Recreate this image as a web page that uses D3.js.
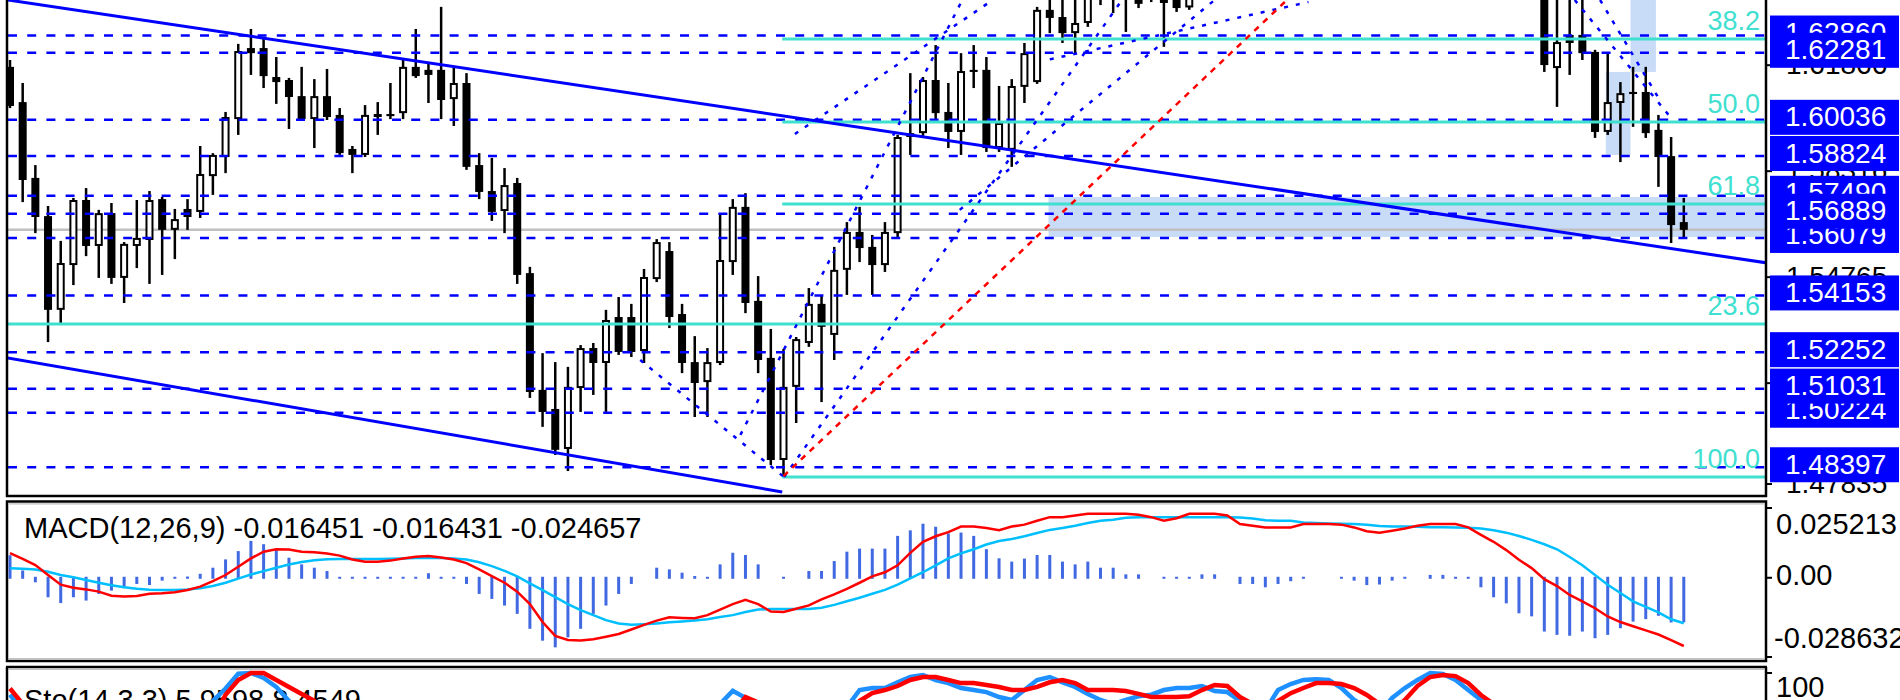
<!DOCTYPE html>
<html><head><meta charset="utf-8">
<script src="https://cdnjs.cloudflare.com/ajax/libs/d3/7.8.5/d3.min.js"></script>
<style>html,body{margin:0;padding:0;background:#fff;overflow:hidden}svg{display:block}</style>
</head><body>
<svg id="chart" width="1900" height="700"></svg>
<script>
// ---------------- DATA ----------------
const openP = [1.6181,1.6063,1.5809,1.5681,1.5367,1.5517,1.5735,1.5581,1.5691,1.5474,
1.5581,1.5601,1.5738,1.5635,1.5705,1.5695,1.5815,1.5879,1.6006,1.6244,
1.6244,1.6147,1.6137,1.6083,1.6006,1.6083,1.6020,1.5906,1.5886,1.6023,
1.6023,1.6026,1.6181,1.6171,1.6171,1.6073,1.6127,1.5852,1.5765,1.5698,
1.5792,1.5490,1.5099,1.5035,1.4901,1.5105,1.5239,1.5189,1.5343,1.5343,
1.5229,1.5470,1.5564,1.5353,1.5192,1.5125,1.5189,1.5527,1.5712,1.5397,
1.5206,1.4864,1.5109,1.5256,1.5387,1.5283,1.5501,1.5628,1.5578,1.5517,
1.5624,1.5946,1.5959,1.6137,1.6030,1.5963,1.6171,1.6171,1.5909,1.5903,
1.6114,1.6130,1.6372,1.6348,1.6294,1.6328,1.6439,1.6455,1.6422,1.6439,
1.6439,1.6412,1.6439,1.6380,1.6470,1.6510,1.6500,1.6490,1.6470,1.6515,
1.6550,1.6580,1.6560,1.6620,1.6650,1.6630,1.6600,1.6560,1.6530,1.6550,
1.6590,1.6620,1.6650,1.6680,1.6670,1.6630,1.6590,1.6550,1.6510,1.6500,
1.6490,1.6472,1.6177,1.6288,1.6288,1.6231,1.5963,1.6060,1.6097,1.6097,
1.5970,1.5882,1.5661];
const highP = [1.6204,1.6127,1.5852,1.5715,1.5598,1.5742,1.5775,1.5702,1.5725,1.5594,
1.5735,1.5765,1.5745,1.5705,1.5738,1.5916,1.5892,1.6030,1.6258,1.6308,
1.6278,1.6214,1.6144,1.6181,1.6140,1.6174,1.6043,1.5916,1.6053,1.6063,
1.6127,1.6207,1.6308,1.6197,1.6382,1.6181,1.6160,1.5892,1.5876,1.5842,
1.5809,1.5511,1.5222,1.5192,1.5176,1.5249,1.5256,1.5367,1.5410,1.5387,
1.5504,1.5604,1.5594,1.5387,1.5279,1.5239,1.5691,1.5738,1.5758,1.5480,
1.5303,1.5236,1.5276,1.5440,1.5417,1.5578,1.5661,1.5712,1.5618,1.5661,
1.5953,1.6160,1.6147,1.6254,1.6127,1.6227,1.6254,1.6214,1.6117,1.6140,
1.6261,1.6382,1.6422,1.6439,1.6422,1.6455,1.6489,1.6506,1.6489,1.6472,
1.6489,1.6472,1.6472,1.6490,1.6530,1.6560,1.6540,1.6520,1.6530,1.6570,
1.6600,1.6620,1.6640,1.6680,1.6690,1.6660,1.6620,1.6590,1.6570,1.6610,
1.6640,1.6670,1.6700,1.6720,1.6690,1.6650,1.6600,1.6570,1.6540,1.6530,
1.6510,1.6506,1.6422,1.6422,1.6422,1.6238,1.6227,1.6130,1.6181,1.6181,
1.6020,1.5946,1.5742];
const lowP = [1.6043,1.5728,1.5624,1.5259,1.5323,1.5450,1.5547,1.5474,1.5454,1.5390,
1.5507,1.5454,1.5484,1.5537,1.5635,1.5675,1.5752,1.5825,1.5953,1.6154,
1.6110,1.6057,1.5973,1.6003,1.5909,1.6003,1.5886,1.5825,1.5879,1.5953,
1.6006,1.6006,1.6144,1.6060,1.6006,1.5983,1.5836,1.5738,1.5665,1.5624,
1.5454,1.5072,1.4975,1.4881,1.4827,1.5025,1.5082,1.5025,1.5216,1.5209,
1.5189,1.5460,1.5306,1.5155,1.5008,1.5008,1.5182,1.5484,1.5356,1.5155,
1.4847,1.4810,1.4988,1.5243,1.5058,1.5199,1.5417,1.5527,1.5417,1.5494,
1.5611,1.5886,1.5946,1.6003,1.5909,1.5886,1.6110,1.5896,1.5896,1.5846,
1.6060,1.6124,1.6294,1.6261,1.6221,1.6315,1.6388,1.6361,1.6298,1.6378,
1.6398,1.6248,1.6365,1.6372,1.6440,1.6480,1.6460,1.6450,1.6455,1.6500,
1.6520,1.6540,1.6550,1.6600,1.6610,1.6580,1.6540,1.6510,1.6500,1.6540,
1.6570,1.6600,1.6630,1.6650,1.6610,1.6570,1.6530,1.6490,1.6470,1.6460,
1.6440,1.6164,1.6047,1.6154,1.6204,1.5943,1.5953,1.5862,1.5980,1.5943,
1.5779,1.5591,1.5608];
const closeP = [1.6050,1.5802,1.5678,1.5367,1.5524,1.5735,1.5581,1.5691,1.5474,1.5588,
1.5608,1.5735,1.5635,1.5671,1.5678,1.5822,1.5886,1.6013,1.6234,1.6227,
1.6150,1.6130,1.6080,1.6006,1.6083,1.6013,1.5892,1.5886,1.6020,1.6013,
1.6016,1.6181,1.6150,1.6154,1.6070,1.6127,1.5846,1.5762,1.5695,1.5785,
1.5484,1.5092,1.5025,1.4898,1.5109,1.5239,1.5189,1.5333,1.5226,1.5226,
1.5477,1.5594,1.5343,1.5189,1.5122,1.5192,1.5534,1.5712,1.5390,1.5199,
1.4864,1.5109,1.5269,1.5387,1.5310,1.5501,1.5628,1.5574,1.5517,1.5628,
1.5946,1.5959,1.6137,1.6026,1.5963,1.6167,1.6164,1.5909,1.5993,1.6117,
1.6227,1.6372,1.6345,1.6294,1.6328,1.6422,1.6472,1.6422,1.6455,1.6392,
1.6465,1.6395,1.6378,1.6470,1.6510,1.6500,1.6490,1.6470,1.6515,1.6550,
1.6580,1.6560,1.6620,1.6650,1.6630,1.6600,1.6560,1.6530,1.6550,1.6590,
1.6620,1.6650,1.6680,1.6670,1.6630,1.6590,1.6550,1.6510,1.6500,1.6490,
1.6460,1.6187,1.6264,1.6261,1.6227,1.5963,1.6063,1.6093,1.6090,1.5959,
1.5879,1.5651,1.5635];

// MACD histogram, light-blue line, red line
const macdHist = [.0085,.0030,-.0020,-.0074,-.0095,-.0074,-.0086,-.0062,-.0050,-.0038,
-.0026,-.0030,-.0014,.0004,.0008,.0018,.0040,.0070,.0100,.0137,
.0125,.0107,.0076,.0052,.0040,.0028,.0003,.0004,.0004,.0004,
.0004,.0004,.0004,.0020,.0004,-.0004,-.0026,-.0062,-.0080,-.0104,
-.0134,-.0188,-.0231,-.0255,-.0219,-.0188,-.0134,-.0104,-.0062,-.0026,
0,.0040,.0034,.0022,.0010,.0003,.0052,.0094,.0086,.0052,
0,.0003,0,.0028,.0028,.0064,.0098,.0109,.0109,.0109,
.0155,.0175,.0199,.0188,.0164,.0167,.0155,.0107,.0074,.0062,
.0073,.0086,.0086,.0062,.0052,.0062,.0040,.0040,.0016,.0016,
0,.0003,.0003,.0003,.0016,.0016,0,-.0026,-.0026,-.0038,
-.0026,-.0016,-.0003,0,0,-.0003,-.0014,-.0030,-.0028,-.0014,
-.0004,0,.0014,.0014,.0003,.0003,-.0038,-.0074,-.0096,-.0132,
-.0143,-.0198,-.0210,-.0213,-.0198,-.0222,-.0210,-.0186,-.0162,-.0153,
-.0141,-.0165,-0.016451];
const macdBlue = [.0034,.0033,.0030,.0022,.0010,.0002,-.0008,-.0018,-.0027,-.0034,
-.0040,-.0043,-.0044,-.0044,-.0042,-.0038,-.0030,-.0018,-.0003,.0012,
.0024,.0036,.0048,.0057,.0063,.0067,.0068,.0068,.0068,.0068,
.0069,.0070,.0071,.0071,.0071,.0070,.0066,.0056,.0042,.0025,
.0005,-.0020,-.0045,-.0070,-.0095,-.0117,-.0135,-.0153,-.0165,-.0170,
-.0168,-.0165,-.0161,-.0158,-.0154,-.0150,-.0142,-.0135,-.0124,-.0115,
-.0113,-.0113,-.0113,-.0113,-.0108,-.0098,-.0085,-.0072,-.0058,-.0044,
-.0025,-.0002,.0020,.0045,.0070,.0088,.0103,.0120,.0133,.0140,
.0150,.0162,.0173,.0180,.0188,.0198,.0206,.0210,.0217,.0219,
.0219,.0219,.0219,.0219,.0219,.0219,.0219,.0218,.0214,.0208,
.0206,.0206,.0200,.0198,.0196,.0195,.0194,.0192,.0187,.0185,
.0185,.0184,.0183,.0183,.0182,.0181,.0178,.0172,.0163,.0151,
.0137,.0121,.0103,.0075,.0045,.0010,-.0025,-.0055,-.0085,-.0105,
-.0125,-.0150,-0.016431];
const macdRed = [.0089,.0068,.0046,.0010,-.0025,-.0036,-.0042,-.0050,-.0065,-.0068,
-.0066,-.0058,-.0056,-.0052,-.0044,-.0032,-.0012,.0010,.0040,.0070,
.0094,.0103,.0102,.0094,.0092,.0088,.0080,.0066,.0058,.0058,
.0062,.0070,.0076,.0079,.0073,.0066,.0053,.0030,.0006,-.0018,
-.0050,-.0095,-.0160,-.0210,-.0225,-.0227,-.0222,-.0213,-.0203,-.0187,
-.0170,-.0155,-.0143,-.0145,-.0146,-.0135,-.0115,-.0095,-.0080,-.0095,
-.0122,-.0124,-.0112,-.0100,-.0078,-.0060,-.0040,-.0018,.0005,.0020,
.0045,.0090,.0130,.0150,.0165,.0185,.0185,.0180,.0172,.0185,
.0192,.0206,.0219,.0219,.0225,.0231,.0231,.0231,.0231,.0228,
.0219,.0206,.0215,.0231,.0231,.0231,.0225,.0194,.0188,.0182,
.0182,.0182,.0194,.0194,.0194,.0192,.0182,.0168,.0163,.0170,
.0178,.0188,.0194,.0194,.0194,.0182,.0155,.0130,.0100,.0065,
.0035,-.0005,-.0030,-.0062,-.0085,-.0110,-.0140,-.0160,-.0175,-.0190,
-.0205,-.0225,-0.024657];

// Stochastic %K (blue) and %D (red)
const stoK = [86,75,60,40,30,35,30,28,22,25,30,38,42,50,58,70,82,90,99.5,100,
96.8,91,82,75,65,60,48,40,45,50,55,62,70,72,68,66,50,35,25,22,
15,8,5,4,12,20,25,32,38,40,55,65,60,50,45,55,80,88.5,84,70,
40,25,35,50,55,70,78,89,90.3,90.3,94,97.4,98.7,95.5,93.5,90.3,89,87.7,84.5,82.6,
89,95.5,97.4,94,91,86.5,82.6,80,82.6,85,86,89,90.3,90.3,91.6,88.4,87.7,82,78,76,
89,92.9,95.5,96,95.5,90.3,82.6,78,74,83.9,90.3,95.5,100,99.4,95.5,89,82.6,75,60,45,
35,20,22,25,20,10,15,18,20,12,8,4,5.9598];
const stoD = [90,80,72,58,43,35,32,31,27,25,26,31,37,43,50,59,70,86,95.5,100,
100,95.5,91,86.5,82,74,63,56,49,47,50,56,62,68,70,69,62,50,37,27,
21,15,9,6,7,12,19,26,32,37,44,53,60,58,52,50,60,74,84.5,81,
65,45,33,37,47,58,68,82,87,89,91.6,95.5,97.4,97.4,95.5,93.5,93.5,92.3,91,89,
89,91,94,95.5,93.5,89,89,89,88.4,86.5,84.5,84.5,84.5,85,89,92.3,91.6,84.5,80,78,
82,87,90.3,93.5,93.5,92.9,90.3,85.8,80,76,82.6,91.6,97.4,98.7,98,93.5,85.8,80,72,58,
45,35,28,22,22,18,15,14,17,16,13,9,8.4549];

// Horizontal price levels (blue dashed lines with price boxes)
const levelPrices = [1.62860,1.62281,1.60036,1.58824,1.57490,1.56889,1.56079,1.54153,1.52252,1.51031,1.50224,1.48397];
const levelDrawOrder = [0,1,2,3,4,6,5,7,8,10,9,11];
// Price axis ticks
const axisTicks = [1.61866,1.58316,1.54765,1.51215,1.47835];
// Fibonacci levels
const fibPrices = [1.62744,1.59963,1.57216,1.53196,1.48070];
const fibLabels = ["38.2","50.0","61.8","23.6","100.0"];
const fibStartIdx = [60.9,60.9,60.9,-1,60.9];
// Trend lines [idx1, price1, idx2, price2]
const trendLines = [[-0.3,1.6406,138.6,1.5524],[-0.2,1.5206,60.9,1.4757]];
const redDotLine = [61,1.4810,100.7,1.6405];
const fanLines = [[49.7,1.5199,61.04,1.4807],[61.04,1.4807,87.7,1.6405],[57.6,1.4948,75.1,1.6405],
  [61.9,1.5956,77.5,1.6405],[74.9,1.5702,95,1.6405],[82,1.6206,102.4,1.6398],
  [123.4,1.6405,130.8,1.6020],[125.4,1.6405,130.1,1.6070]];
// Shaded rectangles [idx1, priceTop, idx2, priceBottom]
const shadeRects = [[81.9,1.5745,140,1.5611],[127.8,1.6600,129.8,1.6164],[125.85,1.6164,127.8,1.5886]];
// MACD axis
const macdTicks = [0.025213,0,-0.028632];
const macdTickLabels = ["0.025213","0.00","-0.028632"];
const stoTicks = [100];

// ---------------- DRAW ----------------
const FONT = "'Liberation Sans', Arial, sans-serif";
const svg = d3.select('#chart');
const N = closeP.length;
const x = d3.scaleLinear().domain([0, 132]).range([10, 1683.8]);
const y = d3.scaleLinear().domain([1.6405, 1.4730]).range([0, 500]);
const ym = d3.scaleLinear().domain([0.025213, -0.028632]).range([508, 657]);
const ys = d3.scaleLinear().domain([100, 0]).range([673, 828]);
const L = 8, R = 1765;

svg.append('rect').attr('width',1900).attr('height',700).attr('fill','#fff');
const defs = svg.append('defs');
defs.append('clipPath').attr('id','cMain').append('rect').attr('x',L).attr('y',0).attr('width',R-L).attr('height',495);
defs.append('clipPath').attr('id','cMacd').append('rect').attr('x',L).attr('y',504).attr('width',R-L).attr('height',154);
defs.append('clipPath').attr('id','cSto').append('rect').attr('x',L).attr('y',669).attr('width',R-L).attr('height',40);

const gm = svg.append('g').attr('clip-path','url(#cMain)');
// shaded rectangles
gm.selectAll('rect.sh').data(shadeRects).join('rect')
  .attr('x',d=>x(d[0])).attr('y',d=>y(d[1])).attr('width',d=>x(d[2])-x(d[0])).attr('height',d=>y(d[3])-y(d[1]))
  .attr('fill','#c8dbf7');
// bid line
gm.append('line').attr('x1',L).attr('x2',R).attr('y1',y(closeP[N-1])).attr('y2',y(closeP[N-1]))
  .attr('stroke','#c0c0c0').attr('stroke-width',2.5);

// candles
const cg = gm.append('g');
for (let i=0;i<N;i++){
  const cx = x(i);
  cg.append('line').attr('x1',cx).attr('x2',cx).attr('y1',y(highP[i])).attr('y2',y(lowP[i]))
    .attr('stroke','#000').attr('stroke-width',2.5);
  const top = y(Math.max(openP[i],closeP[i])), bot = y(Math.min(openP[i],closeP[i]));
  const h = Math.max(2, bot-top);
  if (closeP[i] >= openP[i]) {
    cg.append('rect').attr('x',cx-3).attr('y',top+1).attr('width',6).attr('height',Math.max(1,h-2))
      .attr('fill','#fff').attr('stroke','#000').attr('stroke-width',2);
  } else {
    cg.append('rect').attr('x',cx-4).attr('y',top).attr('width',8).attr('height',h).attr('fill','#000');
  }
}

// dashed levels
gm.selectAll('line.lv').data(levelPrices).join('line')
  .attr('x1',L).attr('x2',R).attr('y1',d=>y(d)).attr('y2',d=>y(d))
  .attr('stroke','#0000ff').attr('stroke-width',2.5).attr('stroke-dasharray','9,10.2');
// fib lines
gm.selectAll('line.fb').data(fibPrices).join('line')
  .attr('x1',(d,i)=>Math.max(L,x(fibStartIdx[i]))).attr('x2',R).attr('y1',d=>y(d)).attr('y2',d=>y(d))
  .attr('stroke','#40e0d0').attr('stroke-width',3);
gm.selectAll('text.fb').data(fibPrices).join('text')
  .attr('x',1760).attr('y',d=>y(d)-9).attr('text-anchor','end')
  .attr('font-family',FONT).attr('font-size',27).attr('fill','#40e0d0').text((d,i)=>fibLabels[i]);
// trend lines
gm.selectAll('line.tl').data(trendLines).join('line')
  .attr('x1',d=>x(d[0])).attr('y1',d=>y(d[1])).attr('x2',d=>x(d[2])).attr('y2',d=>y(d[3]))
  .attr('stroke','#0000ff').attr('stroke-width',3);
gm.selectAll('line.fan').data(fanLines).join('line')
  .attr('x1',d=>x(d[0])).attr('y1',d=>y(d[1])).attr('x2',d=>x(d[2])).attr('y2',d=>y(d[3]))
  .attr('stroke','#0000ff').attr('stroke-width',2.5).attr('stroke-dasharray','4,8');
gm.append('line').attr('x1',x(redDotLine[0])).attr('y1',y(redDotLine[1])).attr('x2',x(redDotLine[2])).attr('y2',y(redDotLine[3]))
  .attr('stroke','#ff0000').attr('stroke-width',2.5).attr('stroke-dasharray','6,6');

// frames
const fr = svg.append('g').attr('stroke','#000');
fr.append('line').attr('x1',7).attr('x2',7).attr('y1',0).attr('y2',497).attr('stroke-width',2.5);
fr.append('line').attr('x1',6).attr('x2',1767).attr('y1',496).attr('y2',496).attr('stroke-width',2.5);
fr.append('line').attr('x1',1766).attr('x2',1766).attr('y1',0).attr('y2',497).attr('stroke-width',2.5);
fr.append('rect').attr('x',7).attr('y',501.5).attr('width',1759).attr('height',159.5).attr('fill','none').attr('stroke-width',2.5);
fr.append('line').attr('x1',9).attr('x2',1764).attr('y1',503.8).attr('y2',503.8).attr('stroke','#c0c0c0').attr('stroke-width',1.2);
fr.append('line').attr('x1',9).attr('x2',1764).attr('y1',658.5).attr('y2',658.5).attr('stroke','#c0c0c0').attr('stroke-width',1.2);
fr.append('line').attr('x1',6).attr('x2',1767).attr('y1',667).attr('y2',667).attr('stroke-width',2.5);
fr.append('line').attr('x1',7).attr('x2',7).attr('y1',667).attr('y2',700).attr('stroke-width',2.5);
fr.append('line').attr('x1',1766).attr('x2',1766).attr('y1',667).attr('y2',700).attr('stroke-width',2.5);
fr.append('line').attr('x1',9).attr('x2',1764).attr('y1',669.3).attr('y2',669.3).attr('stroke','#c0c0c0').attr('stroke-width',1.2);

// price axis ticks and labels
defs.append('clipPath').attr('id','cAx').append('rect').attr('x',1767).attr('y',0).attr('width',133).attr('height',499);
const axg = svg.append('g').attr('clip-path','url(#cAx)');
axg.selectAll('line.tk').data(axisTicks).join('line')
  .attr('x1',1766).attr('x2',1772).attr('y1',d=>y(d)).attr('y2',d=>y(d)).attr('stroke','#000').attr('stroke-width',2);
axg.selectAll('text.tk').data(axisTicks).join('text')
  .attr('x',1786).attr('y',d=>y(d)+9).attr('font-family',FONT).attr('font-size',28).attr('fill','#000')
  .text(d=>d.toFixed(5));
// price level boxes
levelDrawOrder.forEach(k=>{
  const yy = y(levelPrices[k]);
  axg.append('rect').attr('x',1770).attr('y',yy-20).attr('width',129).attr('height',35).attr('fill','#0000ff');
  axg.append('text').attr('x',1785).attr('y',yy+6.5).attr('font-family',FONT).attr('font-size',28)
    .attr('fill','#fff').text(levelPrices[k].toFixed(5));
});

// ---------------- MACD ----------------
const gmc = svg.append('g').attr('clip-path','url(#cMacd)');
gmc.append('text').attr('x',24).attr('y',538).attr('font-family',FONT).attr('font-size',29).attr('fill','#000')
  .text('MACD(12,26,9) ' + macdHist[N-1].toFixed(6) + ' ' + macdBlue[N-1].toFixed(6) + ' ' + macdRed[N-1].toFixed(6));
gmc.selectAll('rect.hb').data(macdHist).join('rect')
  .attr('x',(d,i)=>x(i)-1.5).attr('width',3)
  .attr('y',d=>{const h=Math.max(2,Math.abs(ym(d)-ym(0))); return d>=0? ym(0)-h+1 : ym(0)-1;})
  .attr('height',d=>d===0?0:Math.max(2,Math.abs(ym(d)-ym(0))))
  .attr('fill','#4169e1');
const lineM = d3.line().x((d,i)=>x(i)).y(d=>ym(d));
gmc.append('path').attr('d',lineM(macdBlue)).attr('fill','none').attr('stroke','#00bfff').attr('stroke-width',2.5);
gmc.append('path').attr('d',lineM(macdRed)).attr('fill','none').attr('stroke','#ff0000').attr('stroke-width',2.5);
// MACD axis
svg.selectAll('line.mt').data(macdTicks).join('line')
  .attr('x1',1766).attr('x2',1772).attr('y1',d=>ym(d)).attr('y2',d=>ym(d)).attr('stroke','#000').attr('stroke-width',2);
const macdLabelY = [534, 585, 648];
svg.selectAll('text.mt').data(macdTickLabels).join('text')
  .attr('x',d=>d.startsWith('-')?1774:1776).attr('y',(d,i)=>macdLabelY[i]).attr('font-family',FONT).attr('font-size',29).attr('fill','#000')
  .text(d=>d);

// ---------------- Stochastic ----------------
const gs = svg.append('g').attr('clip-path','url(#cSto)');
gs.append('text').attr('x',24).attr('y',710).attr('font-family',FONT).attr('font-size',29).attr('fill','#000')
  .text('Sto(14,3,3) ' + stoK[N-1].toFixed(4) + ' ' + stoD[N-1].toFixed(4));
const lineS = d3.line().x((d,i)=>x(i)).y(d=>ys(d));
gs.append('path').attr('d',lineS(stoK)).attr('fill','none').attr('stroke','#1e90ff').attr('stroke-width',4.5);
gs.append('path').attr('d',lineS(stoD)).attr('fill','none').attr('stroke','#ff0000').attr('stroke-width',4.5);
svg.selectAll('line.st').data(stoTicks).join('line')
  .attr('x1',1766).attr('x2',1772).attr('y1',d=>ys(d)).attr('y2',d=>ys(d)).attr('stroke','#000').attr('stroke-width',2);
svg.selectAll('text.st').data(stoTicks).join('text')
  .attr('x',1776).attr('y',697).attr('font-family',FONT).attr('font-size',29).attr('fill','#000').text(d=>d);
</script>
</body></html>
